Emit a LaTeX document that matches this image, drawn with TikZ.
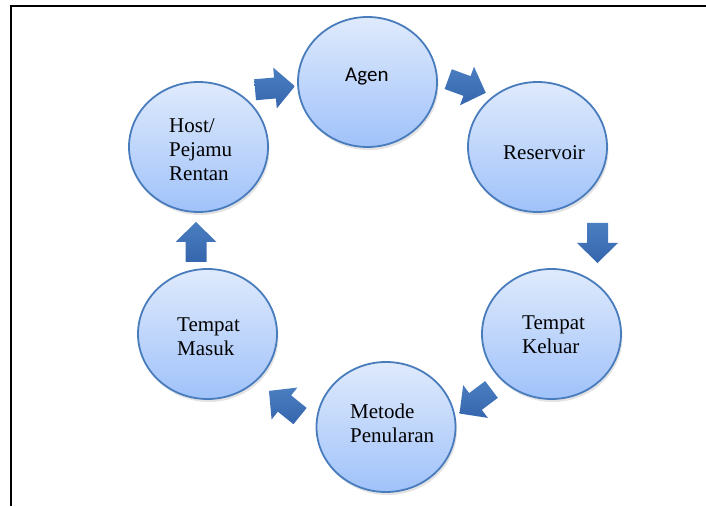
\documentclass[tikz,border=0pt]{standalone}
\usepackage{fontspec}
\setmainfont{Liberation Serif}
\newfontfamily\calibfont{Carlito}
\usetikzlibrary{shapes.geometric,calc,shadows}
\definecolor{ringedge}{RGB}{72,124,188}
\definecolor{filltop}{RGB}{223,234,252}
\definecolor{fillbot}{RGB}{160,194,250}
\definecolor{arrtop}{RGB}{74,126,192}
\definecolor{arrbot}{RGB}{54,102,174}
\begin{document}
\begin{tikzpicture}[x=1pt,y=1pt,
  stage/.style={ellipse, draw=ringedge, line width=1.8pt,
    minimum width=139pt, minimum height=130pt, inner sep=0pt,
    top color=filltop, bottom color=fillbot,
    drop shadow={shadow xshift=1.5pt, shadow yshift=-3pt, opacity=0.22}},
  lbl/.style={font=\fontsize{21}{24}\selectfont, align=left, inner sep=0pt},
  blockarr/.style={top color=arrtop, bottom color=arrbot, draw=none},
  blockarrow/.pic={\shade[blockarr] (-20,-10.5) -- (0,-10.5) -- (0,-20.5) -- (20,0)
      -- (0,20.5) -- (0,10.5) -- (-20,10.5) -- cycle;}]
\useasboundingbox (0,0) rectangle (706,506);
% frame
\draw[line width=2pt] (11,0) -- (11,499.5) -- (706,499.5);

% stages
\node[stage] (agen) at (367.5,424) {};
\node[stage] (host) at (198.5,359) {};
\node[stage] (res)  at (537.5,359) {};
\node[stage] (kel)  at (551.5,172) {};
\node[stage] (met)  at (386,79) {};
\node[stage] (mas)  at (207.5,172) {};

% labels
\node[lbl, anchor=base west, font=\calibfont\fontsize{21}{24}\selectfont] (tagen)
  at ($(agen)+(-22.5,0)$) {Agen};
\node[lbl, anchor=west] (thost) at ($(host)+(-29.5,-2.9)$) {Host/\\Pejamu\\Rentan};
\node[lbl, anchor=base west] (tres) at ($(res)+(-34.5,-13)$) {Reservoir};
\node[lbl, anchor=west] (tkel) at ($(kel)+(-29.5,-1)$) {Tempat\\Keluar};
\node[lbl, anchor=west] (tmet) at ($(met)+(-36,3.6)$) {Metode\\Penularan};
\node[lbl, anchor=west] (tmas) at ($(mas)+(-30.5,-3)$) {Tempat\\Masuk};

% block arrows
\coordinate (a1) at (275,418);
\coordinate (a2) at (467,420);
\coordinate (a3) at (597.5,263);
\coordinate (a4) at (475.5,104.5);
\coordinate (a5) at (284.5,102.5);
\coordinate (a6) at (196,264);
\pic[rotate=5]    at (a1) {blockarrow};
\pic[rotate=-20]  at (a2) {blockarrow};
\pic[rotate=-90]  at (a3) {blockarrow};
\pic[rotate=-143] at (a4) {blockarrow};
\pic[rotate=141]  at (a5) {blockarrow};
\pic[rotate=90]   at (a6) {blockarrow};
\end{tikzpicture}
\end{document}
